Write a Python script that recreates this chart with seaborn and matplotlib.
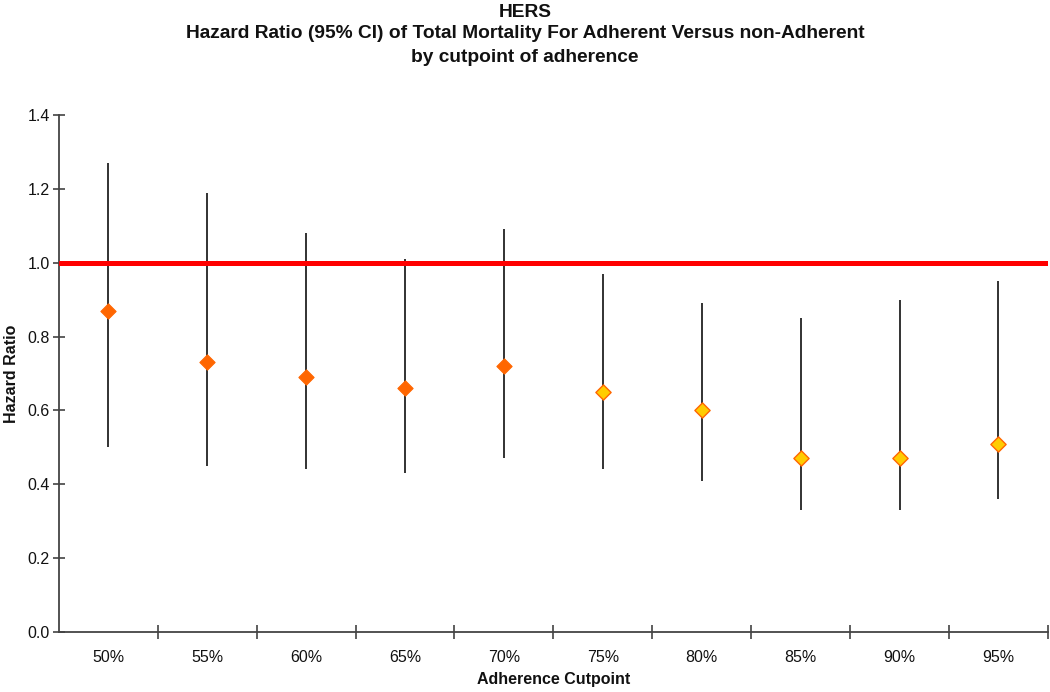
import matplotlib
matplotlib.use('Agg')
import matplotlib.pyplot as plt
import pandas as pd
import seaborn as sns

# values
cutpoints = ['50%', '55%', '60%', '65%', '70%', '75%', '80%', '85%', '90%', '95%']
hazard_ratio = [0.87, 0.73, 0.69, 0.66, 0.72, 0.65, 0.60, 0.47, 0.47, 0.51]
ci_lower = [0.50, 0.45, 0.44, 0.43, 0.47, 0.44, 0.41, 0.33, 0.33, 0.36]
ci_upper = [1.27, 1.19, 1.08, 1.01, 1.09, 0.97, 0.89, 0.85, 0.90, 0.95]
marker_group = ['a'] * 5 + ['b'] * 5


def main():
    sns.set_style('white')
    plt.rcParams['font.family'] = ['Liberation Sans', 'DejaVu Sans']

    df = pd.DataFrame({
        'cutpoint': cutpoints,
        'hr': hazard_ratio,
        'lo': ci_lower,
        'hi': ci_upper,
        'group': marker_group,
    })

    fig = plt.figure(figsize=(10.5, 6.92), dpi=100)
    ax = fig.add_axes([0.056, 0.0867, 0.942, 0.7472])

    # confidence interval lines
    pos = list(range(len(df)))
    ax.vlines(pos, df['lo'], df['hi'], color='#222222', lw=1.3, zorder=2)

    # reference line at HR = 1
    ax.axhline(1.0, color='#ff0000', lw=3.6, zorder=3)

    # point estimates
    grp_a = df[df['group'] == 'a']
    grp_b = df[df['group'] == 'b']
    sns.scatterplot(x=[pos[i] for i in grp_a.index], y=grp_a['hr'], marker='D', s=60,
                    color='#ff6600', edgecolor='#ff6600', linewidth=0.8, ax=ax, zorder=4)
    sns.scatterplot(x=[pos[i] for i in grp_b.index], y=grp_b['hr'], marker='D', s=60,
                    color='#ffcc00', edgecolor='#ff6600', linewidth=1.0, ax=ax, zorder=4)

    ax.set_xlim(-0.5, len(df) - 0.5)
    ax.set_ylim(0, 1.4)
    ax.set_yticks([0.0, 0.2, 0.4, 0.6, 0.8, 1.0, 1.2, 1.4])
    ax.set_yticklabels([f'{v:.1f}' for v in ax.get_yticks()])
    ax.set_xticks(pos)
    ax.set_xticklabels(cutpoints)
    ax.tick_params(axis='x', which='major', bottom=False, length=0, pad=13,
                   labelsize=11.5, labelcolor='#111111')
    # category boundary ticks
    ax.set_xticks([p + 0.5 for p in pos], minor=True)
    ax.tick_params(axis='x', which='minor', bottom=True, direction='inout', length=10,
                   width=1.1, color='#333333')
    ax.tick_params(axis='y', left=True, direction='inout', length=9, width=1.1, color='#333333',
                   labelsize=11.5, labelcolor='#111111', pad=2)

    for side in ['top', 'right']:
        ax.spines[side].set_visible(False)
    for side in ['left', 'bottom']:
        ax.spines[side].set_color('#444444')
        ax.spines[side].set_linewidth(1.3)

    ax.set_xlabel('Adherence Cutpoint', fontsize=11.5, fontweight='bold', labelpad=5, color='#111111')
    ax.set_ylabel('Hazard Ratio', fontsize=11.5, fontweight='bold', labelpad=6, color='#111111')

    fig.text(0.5, 0.982, 'HERS', ha='center', va='center', fontsize=13.8, fontweight='bold',
             color='#111111')
    fig.text(0.5, 0.951, 'Hazard Ratio (95% CI) of Total Mortality For Adherent Versus non-Adherent',
             ha='center', va='center', fontsize=13.8, fontweight='bold', color='#111111')
    fig.text(0.5, 0.917, 'by cutpoint of adherence', ha='center', va='center',
             fontsize=13.8, fontweight='bold', color='#111111')

    fig.savefig('out.png', dpi=100)


if __name__ == '__main__':
    main()
